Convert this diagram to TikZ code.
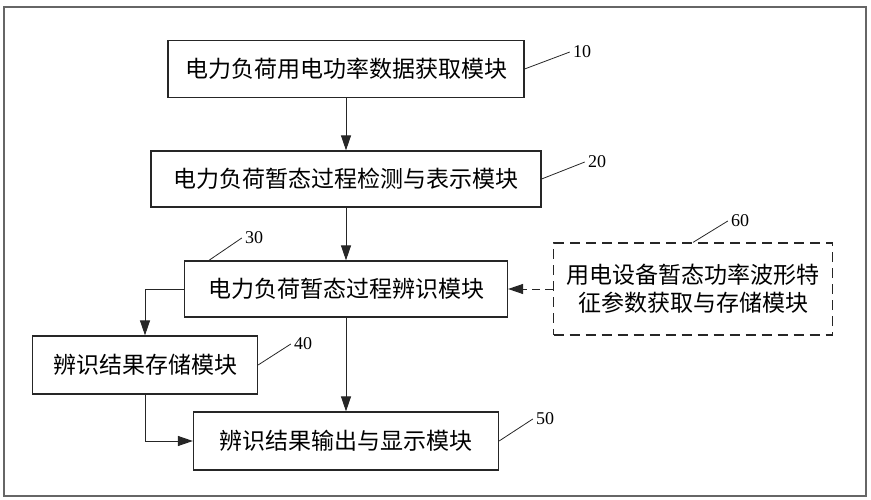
\documentclass[tikz,border=0pt]{standalone}
\usepackage{fontspec}
\setmainfont{Liberation Serif}
\newfontfamily\cjk{Noto Sans CJK SC}
\usetikzlibrary{arrows.meta}

\tikzset{
  modulo/.style={draw=black!85, line width=1.2pt, inner sep=0pt, align=center,
    font=\cjk\fontsize{23}{28}\selectfont},
  numero/.style={inner sep=3pt, font=\fontsize{18}{18}\selectfont},
  flecha/.style={-{Triangle[length=15pt,width=10pt]}, line width=1pt, draw=black!85},
  guia/.style={line width=0.8pt, draw=black!85},
}

\begin{document}
\begin{tikzpicture}[x=1pt, y=-1pt]
    \useasboundingbox (0,0) rectangle (871,500);
    % Marco exterior
    \draw[black!60, line width=1.6pt] (4,7) rectangle (866,496);

    % Modulos
    \node[modulo, minimum width=356pt, minimum height=57pt] (b10) at (346,69) {电力负荷用电功率数据获取模块};
    \node[modulo, minimum width=390pt, minimum height=56pt] (b20) at (346,179) {电力负荷暂态过程检测与表示模块};
    \node[modulo, minimum width=323pt, minimum height=56pt] (b30) at (346,289) {电力负荷暂态过程辨识模块};
    \node[modulo, dash pattern=on 10pt off 6pt, minimum width=279pt, minimum height=92pt] (b60) at (693,289)
        {用电设备暂态功率波形特\\征参数获取与存储模块};
    \node[modulo, minimum width=225pt, minimum height=58pt] (b40) at (145,365) {辨识结果存储模块};
    \node[modulo, minimum width=305pt, minimum height=58pt] (b50) at (346,441) {辨识结果输出与显示模块};

    % Flechas
    \draw[flecha] (b10) -- (b20);
    \draw[flecha] (b20) -- (b30);
    \draw[flecha] (b30) -- (b50);
    \draw[flecha, dash pattern=on 8pt off 5pt] (b60) -- (b30);
    \draw[flecha] (b30.west) -| (b40.north);
    \draw[flecha] (b40.south) |- (b50.west);

    % Numeros de referencia
    \node[numero] (n10) at (582,52) {10};
    \node[numero] (n20) at (597,162) {20};
    \node[numero] (n30) at (254,238) {30};
    \node[numero] (n40) at (303,344) {40};
    \node[numero] (n50) at (545,419) {50};
    \node[numero] (n60) at (740,221) {60};
    \draw[guia] (b10.east) -- (n10.west);
    \draw[guia] (b20.east) -- (n20.west);
    \draw[guia] ([xshift=25pt]b30.north west) -- (n30.west);
    \draw[guia] (b40.east) -- (n40.west);
    \draw[guia] (b50.east) -- (n50.west);
    \draw[guia] (b60.north) -- (n60.west);
\end{tikzpicture}
\end{document}
